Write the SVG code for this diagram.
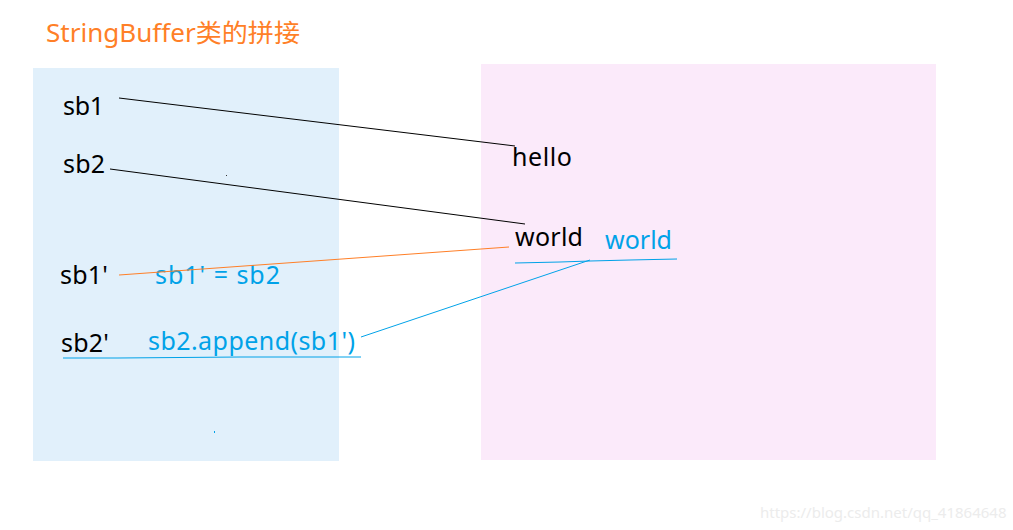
<svg xmlns="http://www.w3.org/2000/svg" width="1013" height="530" viewBox="0 0 1013 530">
<style>
text{font-family:"Noto Sans","Noto Sans CJK SC",sans-serif;}
.k{font-size:25px;fill:#000}
.b{font-size:25px;fill:#00a2e8}
.ln{fill:none;stroke-width:1}
</style>
<rect width="1013" height="530" fill="#fff"/>
<g id="title"><text x="46" y="42" font-size="25" fill="#ff7f27" font-family="Noto Sans CJK SC,sans-serif" textLength="254" lengthAdjust="spacingAndGlyphs">StringBuffer类的拼接</text></g>
<g id="stack"><rect x="33" y="68" width="306" height="393" fill="#e1f0fb"/></g>
<g id="heap"><rect x="481" y="64" width="455" height="396" fill="#fbeafa"/></g>
<g id="sb1"><text class="k" x="63" y="115" textLength="41">sb1</text></g>
<g id="sb2"><text class="k" x="63" y="173" textLength="42">sb2</text></g>
<g id="sb1p"><text class="k" x="60" y="284" textLength="48">sb1'</text></g>
<g id="sb2p"><text class="k" x="61" y="352" textLength="48">sb2'</text></g>
<g id="hello"><text class="k" x="512" y="166" textLength="60">hello</text></g>
<g id="world"><text class="k" x="515" y="246" textLength="68">world</text></g>
<g id="world2"><text class="b" x="605" y="249" textLength="67">world</text></g>
<g id="assign"><text class="b" x="155" y="284" textLength="125">sb1' = sb2</text></g>
<g id="append"><text class="b" x="148" y="350" textLength="207">sb2.append(sb1')</text></g>
<g id="connectors">
<line class="ln" stroke="#000" x1="119" y1="98" x2="515" y2="146"/>
<line class="ln" stroke="#000" x1="110" y1="169" x2="525" y2="224"/>
<line class="ln" stroke="#ff7f27" x1="119" y1="275" x2="509" y2="247"/>
<line class="ln" stroke="#00a2e8" x1="361" y1="337" x2="590" y2="260"/>
<polyline class="ln" stroke="#00a2e8" points="515,263 560,262 590,261 630,260 677,259"/>
<polyline class="ln" stroke="#00a2e8" points="63,358 118,358 240,357 361,357"/>
</g>
<rect x="226" y="175" width="1" height="1" fill="#333"/>
<rect x="214" y="431" width="1" height="2" fill="#00a2e8"/>
<text x="760" y="518" font-size="15" fill="#ececec" font-family="Liberation Sans,sans-serif">https://blog.csdn.net/qq_41864648</text>
</svg>
